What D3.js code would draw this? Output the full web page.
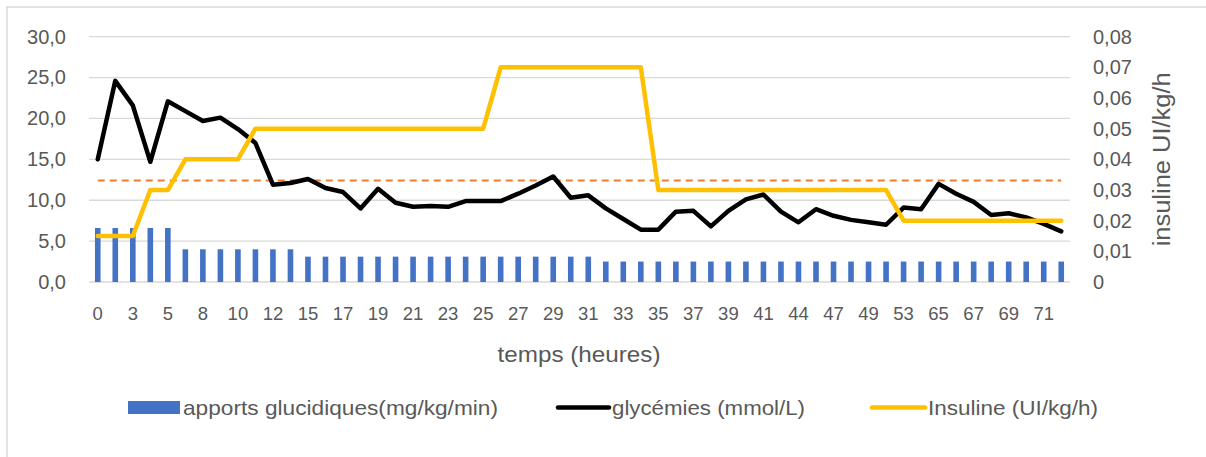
<!DOCTYPE html>
<html>
<head>
<meta charset="utf-8">
<script src="https://cdn.jsdelivr.net/npm/d3@7"></script>
<style>
  html, body { margin: 0; padding: 0; background: #fff; }
  svg { display: block; font-family: "Liberation Sans", Arial, sans-serif; }
</style>
</head>
<body>
<svg id="chart" width="1206" height="457"></svg>
<script>
// ---- data ----
const heures = [0, 2, 3, 4, 5, 7, 8, 9, 10, 11, 12, 14, 15, 16, 17, 18, 19, 20, 21, 22,
  23, 24, 25, 26, 27, 28, 29, 30, 31, 32, 33, 34, 35, 36, 37, 38, 39, 40, 41, 43,
  44, 45, 47, 48, 49, 51, 53, 59, 65, 66, 67, 68, 69, 70, 71, 72];

const apports = [6.6, 6.6, 6.6, 6.6, 6.6, 4.0, 4.0, 4.0, 4.0, 4.0, 4.0, 4.0,
  3.1, 3.1, 3.1, 3.1, 3.1, 3.1, 3.1, 3.1, 3.1, 3.1, 3.1, 3.1, 3.1, 3.1, 3.1, 3.1, 3.1,
  2.5, 2.5, 2.5, 2.5, 2.5, 2.5, 2.5, 2.5, 2.5, 2.5, 2.5, 2.5, 2.5, 2.5, 2.5, 2.5, 2.5,
  2.5, 2.5, 2.5, 2.5, 2.5, 2.5, 2.5, 2.5, 2.5, 2.5];

const glycemies = [15.0, 24.6, 21.6, 14.7, 22.1, 20.9, 19.7, 20.1, 18.7, 17.0,
  11.9, 12.1, 12.6, 11.5, 11.0, 9.0, 11.4, 9.7, 9.2, 9.3,
  9.2, 9.9, 9.9, 9.9, 10.8, 11.8, 12.9, 10.3, 10.6, 9.0,
  7.7, 6.4, 6.4, 8.6, 8.7, 6.8, 8.7, 10.1, 10.7, 8.6,
  7.3, 8.9, 8.1, 7.6, 7.3, 7.0, 9.1, 8.9, 12.0, 10.8,
  9.8, 8.2, 8.4, 7.9, 7.1, 6.2];

const insuline = [0.015, 0.015, 0.015, 0.03, 0.03, 0.04, 0.04, 0.04, 0.04,
  0.05, 0.05, 0.05, 0.05, 0.05, 0.05, 0.05, 0.05, 0.05, 0.05, 0.05, 0.05, 0.05, 0.05,
  0.07, 0.07, 0.07, 0.07, 0.07, 0.07, 0.07, 0.07, 0.07,
  0.03, 0.03, 0.03, 0.03, 0.03, 0.03, 0.03, 0.03, 0.03, 0.03, 0.03, 0.03, 0.03, 0.03,
  0.02, 0.02, 0.02, 0.02, 0.02, 0.02, 0.02, 0.02, 0.02, 0.02];

const seuil = [12.4, 12.4, 12.4, 12.4, 12.4, 12.4, 12.4, 12.4, 12.4, 12.4,
  12.4, 12.4, 12.4, 12.4, 12.4, 12.4, 12.4, 12.4, 12.4, 12.4,
  12.4, 12.4, 12.4, 12.4, 12.4, 12.4, 12.4, 12.4, 12.4, 12.4,
  12.4, 12.4, 12.4, 12.4, 12.4, 12.4, 12.4, 12.4, 12.4, 12.4,
  12.4, 12.4, 12.4, 12.4, 12.4, 12.4, 12.4, 12.4, 12.4, 12.4,
  12.4, 12.4, 12.4, 12.4, 12.4, 12.4];

const leftTicks = [0, 5, 10, 15, 20, 25, 30];
const rightTicks = [0, 0.01, 0.02, 0.03, 0.04, 0.05, 0.06, 0.07, 0.08];

const labels = {
  xTitle: "temps (heures)",
  yRightTitle: "insuline UI/kg/h",
  legApports: "apports glucidiques(mg/kg/min)",
  legGly: "glycémies (mmol/L)",
  legIns: "Insuline (UI/kg/h)"
};

// ---- layout ----
const W = 1206, H = 457;
const plot = { left: 89, right: 1070, top: 36.7, bottom: 282 };
const textColor = "#595959";
const gridColor = "#d9d9d9";

const svg = d3.select("#chart");
svg.append("rect").attr("width", W).attr("height", H).attr("fill", "#fff");
svg.append("rect").attr("x", 7).attr("y", 7).attr("width", W + 10).attr("height", H + 10)
  .attr("fill", "none").attr("stroke", gridColor).attr("stroke-width", 1.5);

const x = d3.scaleBand().domain(heures.map((d, i) => i)).range([plot.left, plot.right]).padding(0);
const yL = d3.scaleLinear().domain([0, 30]).range([plot.bottom, plot.top]);
const yR = d3.scaleLinear().domain([0, 0.08]).range([plot.bottom, plot.top]);
const cx = i => x(i) + x.bandwidth() / 2;

// gridlines
svg.append("g").selectAll("line").data(leftTicks).join("line")
  .attr("x1", plot.left).attr("x2", plot.right)
  .attr("y1", d => yL(d)).attr("y2", d => yL(d))
  .attr("stroke", gridColor).attr("stroke-width", 1.3);

// left axis
const fmtL = v => d3.format(".1f")(v).replace(".", ",");
const gL = svg.append("g").attr("transform", `translate(${plot.left},0)`)
  .call(d3.axisLeft(yL).tickValues(leftTicks).tickSize(0).tickPadding(23).tickFormat(fmtL));
gL.select(".domain").remove();
gL.selectAll("text").attr("fill", textColor).style("font-size", "20px")
  .style("font-family", "'Liberation Sans', Arial, sans-serif");

// right axis
const fmtR = v => v === 0 ? "0" : d3.format(".2f")(v).replace(".", ",");
const gR = svg.append("g").attr("transform", `translate(${plot.right},0)`)
  .call(d3.axisRight(yR).tickValues(rightTicks).tickSize(0).tickPadding(23).tickFormat(fmtR));
gR.select(".domain").remove();
gR.selectAll("text").attr("fill", textColor).style("font-size", "20px")
  .style("font-family", "'Liberation Sans', Arial, sans-serif");

// x axis
const gX = svg.append("g").attr("transform", `translate(0,${plot.bottom})`)
  .call(d3.axisBottom(x).tickValues(heures.map((d, i) => i).filter(i => i % 2 === 0))
    .tickSize(0).tickPadding(25).tickFormat(i => heures[i]));
gX.select(".domain").remove();
gX.selectAll("text").attr("fill", textColor).style("font-size", "18.5px")
  .style("font-family", "'Liberation Sans', Arial, sans-serif");

// bars
const bw = x.bandwidth() * 0.32;
svg.append("g").selectAll("rect").data(apports).join("rect")
  .attr("x", (d, i) => cx(i) - bw / 2).attr("width", bw)
  .attr("y", d => yL(d)).attr("height", d => yL(0) - yL(d))
  .attr("fill", "#4472C4");

// dashed threshold
svg.append("path").datum(seuil)
  .attr("d", d3.line().x((d, i) => cx(i)).y(d => yL(d)))
  .attr("fill", "none").attr("stroke", "#ED7D31").attr("stroke-width", 2)
  .attr("stroke-dasharray", "7,5");

// glycemies line
svg.append("path").datum(glycemies)
  .attr("d", d3.line().x((d, i) => cx(i)).y(d => yL(d)))
  .attr("fill", "none").attr("stroke", "#000").attr("stroke-width", 4.5)
  .attr("stroke-linejoin", "round").attr("stroke-linecap", "round");

// insuline line
svg.append("path").datum(insuline)
  .attr("d", d3.line().x((d, i) => cx(i)).y(d => yR(d)))
  .attr("fill", "none").attr("stroke", "#FFC000").attr("stroke-width", 4.5)
  .attr("stroke-linejoin", "round").attr("stroke-linecap", "round");

// axis titles
svg.append("text").attr("x", 579).attr("y", 354).attr("dy", "0.35em")
  .attr("text-anchor", "middle").attr("fill", textColor).style("font-size", "22px")
  .attr("textLength", 163).attr("lengthAdjust", "spacingAndGlyphs")
  .text(labels.xTitle);
svg.append("text").attr("transform", `translate(1162,${(plot.top + plot.bottom) / 2}) rotate(-90)`)
  .attr("dy", "0.35em").attr("text-anchor", "middle").attr("fill", textColor)
  .style("font-size", "23px").attr("textLength", 174).attr("lengthAdjust", "spacingAndGlyphs")
  .text(labels.yRightTitle);

// legend
const ly = 407.5;
const leg = svg.append("g");
leg.append("rect").attr("x", 128).attr("y", ly - 6.5).attr("width", 52).attr("height", 13).attr("fill", "#4472C4");
leg.append("text").attr("x", 183).attr("y", ly).attr("dy", "0.35em").attr("fill", textColor)
  .style("font-size", "21px").attr("textLength", 315).attr("lengthAdjust", "spacingAndGlyphs")
  .text(labels.legApports);
leg.append("line").attr("x1", 558).attr("x2", 609).attr("y1", ly).attr("y2", ly)
  .attr("stroke", "#000").attr("stroke-width", 4.5).attr("stroke-linecap", "round");
leg.append("text").attr("x", 612).attr("y", ly).attr("dy", "0.35em").attr("fill", textColor)
  .style("font-size", "21px").attr("textLength", 193).attr("lengthAdjust", "spacingAndGlyphs")
  .text(labels.legGly);
leg.append("line").attr("x1", 872).attr("x2", 925).attr("y1", ly).attr("y2", ly)
  .attr("stroke", "#FFC000").attr("stroke-width", 4.5).attr("stroke-linecap", "round");
leg.append("text").attr("x", 928).attr("y", ly).attr("dy", "0.35em").attr("fill", textColor)
  .style("font-size", "21px").attr("textLength", 170).attr("lengthAdjust", "spacingAndGlyphs")
  .text(labels.legIns);
</script>
</body>
</html>
